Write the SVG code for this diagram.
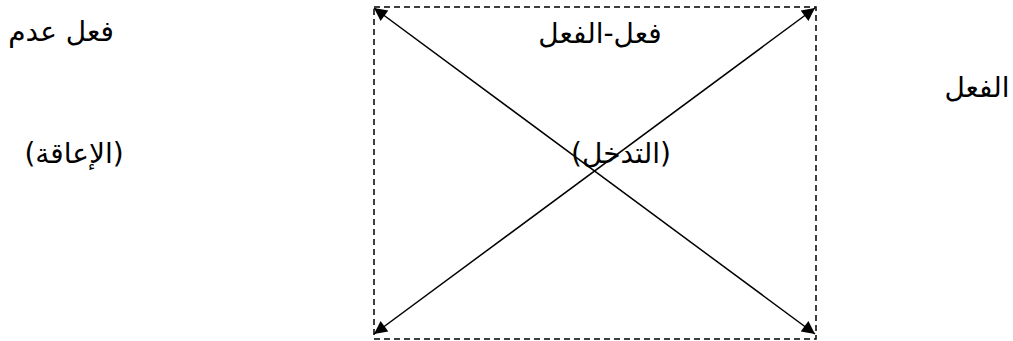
<svg xmlns="http://www.w3.org/2000/svg" width="1013" height="341" viewBox="0 0 1013 341">
<style>
.t{font-family:"DejaVu Sans","Noto Sans",sans-serif;font-size:28px;fill:#000;direction:rtl;text-anchor:middle}
.c{stroke:#000;stroke-width:1.5;fill:none}
</style>
<defs>
<marker id="ah" viewBox="0 0 10 10" refX="10" refY="5" markerWidth="15" markerHeight="13" markerUnits="userSpaceOnUse" orient="auto-start-reverse">
<path d="M0,0L10,5L0,10z" fill="#000"/>
</marker>
</defs>
<rect id="box" x="374" y="7" width="442" height="332" fill="none" stroke="#000" stroke-width="1.5" stroke-dasharray="6,4"/>
<g id="connectors">
<line class="c" x1="374" y1="8" x2="815" y2="334" marker-start="url(#ah)" marker-end="url(#ah)"/>
<line class="c" x1="374" y1="334" x2="815" y2="8" marker-start="url(#ah)" marker-end="url(#ah)"/>
</g>
<g id="n1"><text class="t" x="61" y="41">فعل عدم</text></g>
<g id="n2"><text class="t" x="74" y="163">(الإعاقة)</text></g>
<g id="n3"><text class="t" x="977" y="97">الفعل</text></g>
<g id="n4"><text class="t" x="600" y="43">فعل-الفعل</text></g>
<g id="n5"><text class="t" x="621" y="163">(التدخل)</text></g>
</svg>
